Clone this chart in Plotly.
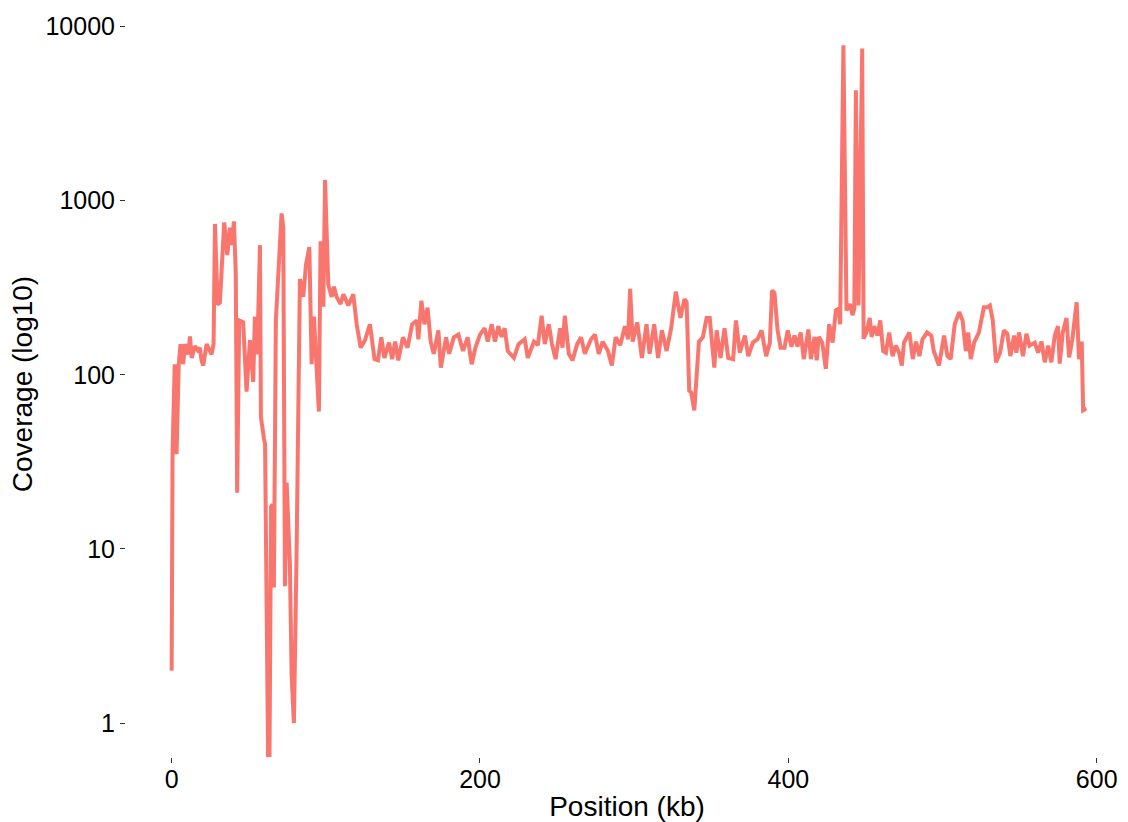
import plotly.graph_objects as go

# Position along the sequence (kb)
position_kb = [
    0, 0.6, 2.0, 3.2, 4.6, 5.8, 7.5, 8.6, 10.8, 11.9, 13, 15.1, 17, 18.3, 19.4, 20.5,
    22.7, 24.5, 25.9, 27.2, 28.1, 29.8, 31.3, 34.1, 36.1, 37.8, 38.9, 40.4, 41.6, 42.5,
    43.8, 46.4, 48.6, 50.8, 52.9, 54, 55.5, 57.3, 57.9, 59.9, 60.6, 63.1, 64.5, 65.4,
    66.3, 67.6, 69.5, 71.3, 72.4, 73.5, 74.6, 76.7, 77.8, 79.3, 81, 83.2, 85.4, 87.1,
    89.3, 90.8, 92.3, 94.1, 95.5, 96.6, 98.4, 99.5, 101.6, 103.8, 105.3, 107, 109.6,
    111.4, 114.6, 117.8, 120, 122.6, 125.4, 128.6,
    131.6, 133.8, 136, 138, 141, 143, 145, 147, 150, 153, 156, 159, 160, 162, 164, 166,
    168, 170, 173, 174.6, 178, 180, 183, 186, 189, 192, 194.6, 197, 200, 203, 205, 207.6,
    209.7, 211.9, 214, 216, 218, 222, 225, 229, 231, 235, 237.5, 240, 242, 244.6, 246.7,
    249, 252, 253.5, 255, 257.6, 260, 263, 265.6, 268, 272, 274.6, 277, 279.6, 283, 285.5,
    288, 291, 294, 296, 297.4, 299, 302, 305, 308, 310, 313, 315.5, 318, 321, 324, 327,
    330, 332.6, 334, 335.7, 337, 339, 342, 344.5, 347, 349, 352, 353.5, 356, 358.6, 361,
    364.2, 366, 368.5, 371.8, 374, 377, 380, 382.6, 385.6, 388, 389.4, 391, 393, 395,
    397.5, 399.6, 402, 404, 406, 408, 410, 413, 414.6, 417, 418.4, 419.7, 422, 424.3,
    426.5, 428.7, 430.8, 432.6, 433.6, 435.7, 437.7, 440, 441.6, 442.8, 443.8, 445.5,
    447.9, 448.8, 450.7, 452.8, 454, 455.7, 457.8, 459.6, 461.5, 463.3, 465.4, 467.6,
    469.7, 471.8, 473.6, 475, 478.5, 480.7, 482.8, 485, 487, 490, 492.7, 494.3, 497.7,
    501, 503.2, 505.3, 507.9, 510.8, 513, 515.1, 516.6, 518.3, 520.5, 523.6, 526.8, 529,
    530.7, 532.6, 534.7, 537.3, 539.8, 542, 544, 546.4, 547.9, 549.6, 552.2, 554.4,
    556.4, 559.8, 562, 564.2, 566.3, 568.5, 570.6, 572.8, 574.9, 576, 578, 580.4, 582.1,
    584.2, 587, 588.5, 590.3, 591.2, 593.3,
]

# Read coverage at each position (0 = no coverage)
coverage = [
    2, 36, 115, 35, 115, 150, 115, 150, 131, 166, 125, 146, 138, 143, 121, 113,
    150, 140, 131, 150, 735, 253, 260, 750, 487, 700, 555, 760, 380, 21,
    205, 200, 80, 158, 91, 216, 131, 555, 57, 43, 40, 0, 17.5, 18,
    6, 205, 420, 845, 700, 6.1, 24, 8.2, 1.9, 1.0, 8.9, 355, 280, 427,
    541, 115, 216, 104, 61.5, 585, 246, 1315, 330, 280, 320, 280, 255,
    290, 250, 290, 195, 143, 158, 195,
    123, 121, 164, 125, 153, 123, 155, 121, 164, 143, 195, 205, 160, 266, 195, 243,
    155, 132, 180, 110, 164, 132, 164, 170, 137, 164, 115, 143, 170, 185, 155, 195,
    155, 190, 165, 185, 137, 125, 150, 160, 125, 155, 148, 218, 150, 195, 150,
    123, 185, 143, 218, 132, 121, 150, 164, 132, 160, 170, 132, 155, 137, 113,
    164, 148, 190, 160, 312, 155, 200, 125, 195, 132, 195, 125, 180, 137, 185, 300,
    212, 272, 262, 81, 79, 62.5, 155, 164, 212, 212, 110, 180, 125, 185, 125,
    123, 205, 134, 168, 128, 153, 160, 180, 128, 153, 305, 295, 180, 143,
    143, 180, 145, 168, 145, 175, 123, 182, 123, 165, 121, 165, 153, 108,
    195, 153, 234, 240, 195, 7800, 234, 255, 220, 240, 4300, 250,
    7480, 161, 175, 212, 165, 190, 168, 205, 137, 134, 175, 128,
    147, 134, 113, 153, 175, 123, 155, 128, 160, 175, 168, 137, 113,
    168, 128, 123, 195, 229, 205, 137, 175, 123, 153, 175, 244, 244,
    250, 205, 118, 134, 180, 172, 128, 168, 134, 175, 128, 172,
    147, 153, 134, 155, 118, 147, 118, 168, 190, 116, 175, 212, 126,
    160, 261, 123, 155, 62.5, 64,
]

x_ticks = [0, 200, 400, 600]
y_ticks = [1, 10, 100, 1000, 10000]
y_tick_labels = ["1", "10", "100", "1000", "10000"]

Y_RANGE_LOG = [-0.195, 4.089]
X_RANGE = [-29.6, 620.3]

# zero coverage is -Inf on a log scale: draw it at the panel floor (clipped)
floor_value = 10 ** (Y_RANGE_LOG[0] - 0.5)
plot_cov = [c if c > 0 else floor_value for c in coverage]

FONT = "Liberation Sans, Arial, Helvetica, sans-serif"

fig = go.Figure()
fig.add_trace(go.Scatter(
    x=position_kb, y=plot_cov, mode="lines",
    line=dict(color="#F8766D", width=4),
    showlegend=False, hoverinfo="skip",
))

fig.update_layout(
    width=1128, height=822,
    margin=dict(l=126, r=0, t=11, b=65, autoexpand=False),
    paper_bgcolor="white", plot_bgcolor="white",
    font=dict(family=FONT, color="#000000"),
)
fig.update_xaxes(
    range=X_RANGE, tickvals=x_ticks, ticktext=[str(v) for v in x_ticks],
    showgrid=False, zeroline=False, showline=False,
    ticks="outside", ticklen=5, tickwidth=1.2, tickcolor="#333333",
    tickfont=dict(size=25, family=FONT, color="#000000"),
    ticklabelstandoff=-5,
    title=dict(text="Position (kb)", font=dict(size=28, family=FONT, color="#000000"), standoff=9),
    automargin=False,
)
fig.update_yaxes(
    type="log", range=Y_RANGE_LOG, tickvals=y_ticks, ticktext=y_tick_labels,
    showgrid=False, zeroline=False, showline=False,
    ticks="outside", ticklen=5, tickwidth=1.2, tickcolor="#333333",
    tickfont=dict(size=25, family=FONT, color="#000000"),
    title=dict(text="Coverage (log10)", font=dict(size=28, family=FONT, color="#000000"), standoff=4),
    automargin=False,
)

fig.write_html(
    "out.html",
    config={"displayModeBar": False},
    post_script="document.body.style.margin='0';document.body.style.overflow='hidden';",
)
